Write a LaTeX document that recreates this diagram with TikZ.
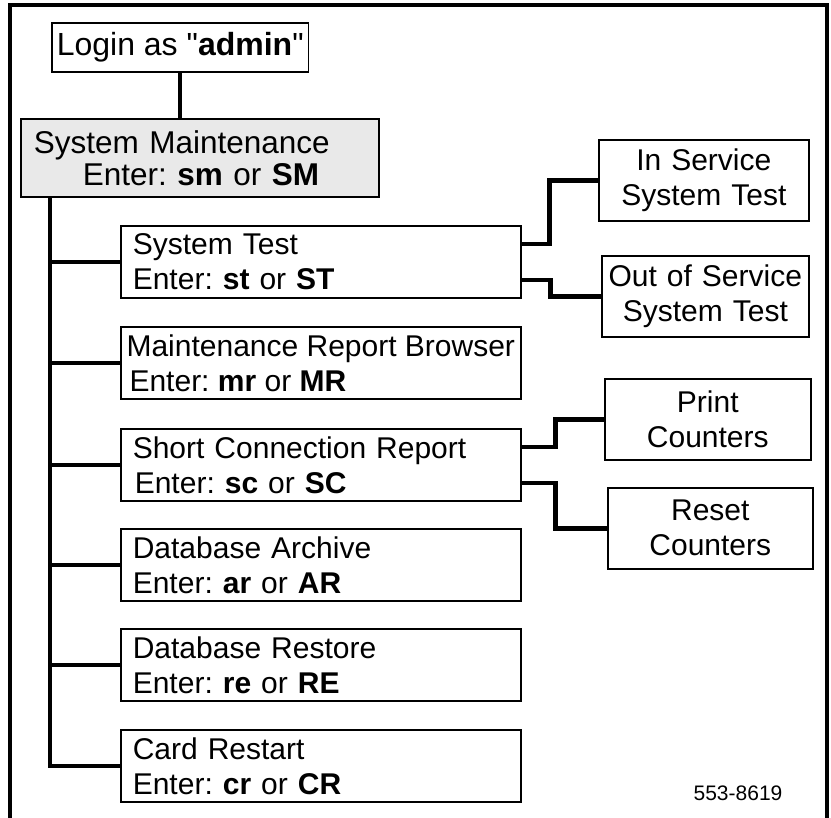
\documentclass[tikz,border=0pt]{standalone}
\usepackage{fontspec}
\setmainfont{Liberation Sans}
\newfontfamily\rawfont{Liberation Sans}
\frenchspacing

\begin{document}
\begin{tikzpicture}[x=1pt,y=-1pt,
  box/.style={draw,line width=1.6pt,anchor=north west,inner sep=0pt,font=\fontsize{30}{35}\selectfont},
  menu/.style={box,minimum width=400pt,minimum height=72pt,inner xsep=12pt,text width=376pt,align=left},
  sub/.style={box,minimum width=#1,minimum height=81pt,text width=#1,align=center},
  link/.style={line width=4.5pt}]
\useasboundingbox (0,0) rectangle (831,818);
\draw [line width=3.5pt] (10,818) -- (10,5) -- (827,5) -- (827,818);

\node [box,inner xsep=5pt,minimum height=49pt,font=\fontsize{32}{38}\selectfont] (login) at (51,22) {Login as {\rawfont"}\textbf{admin}{\rawfont"}};
\node [box,fill=gray!17,minimum width=358pt,minimum height=78pt,inner xsep=13pt,text width=332pt,align=left,font=\fontsize{31.5}{32}\selectfont] (sm) at (20,118)
  {System Maintenance\\\hspace*{49pt}Enter: \textbf{sm} or \textbf{SM}};
\draw [link] (login.south) -- (login.south |- sm.north);

\node [menu] (st) at (120,225) {System Test\\Enter: \textbf{st} or \textbf{ST}};
\node [box,minimum width=400pt,minimum height=72pt,inner xsep=5pt,align=left] (mr) at (120,326) {Maintenance Report Browser\\\hspace*{3pt}Enter: \textbf{mr} or \textbf{MR}};
\node [menu] (sc) at (120,428) {Short Connection Report\\\hspace*{2pt}Enter: \textbf{sc} or \textbf{SC}};
\node [menu] (da) at (120,528) {Database Archive\\Enter: \textbf{ar} or \textbf{AR}};
\node [menu] (dr) at (120,628) {Database Restore\\Enter: \textbf{re} or \textbf{RE}};
\node [menu] (cr) at (120,729) {Card Restart\\Enter: \textbf{cr} or \textbf{CR}};

\coordinate (trunk) at (50,0);
\draw [link] (trunk |- sm.south) -- (trunk |- cr.west) -- (cr.west);
\foreach \m in {st,mr,sc,da,dr}
  \draw [link] (trunk |- \m.west) -- (\m.west);

\node [sub=210pt] (ins) at (598,139) {In Service\\System Test};
\node [sub=207pt] (oos) at (601,255) {Out of Service\\System Test};
\node [sub=206pt] (pc) at (604,378) {Print\\Counters};
\node [sub=205pt] (rc) at (607,487) {Reset\\Counters};

\draw [link] ([yshift=18pt]st.east) -- ++(28,0) |- (ins.west);
\draw [link] ([yshift=-18pt]st.east) -- ++(29,0) |- (oos.west);
\draw [link] ([yshift=18pt]sc.east) -- ++(34,0) |- (pc.west);
\draw [link] ([yshift=-18pt]sc.east) -- ++(34,0) |- (rc.west);

\node [font=\fontsize{21}{21}\selectfont] (fig) at (738,793) {553-8619};
\end{tikzpicture}
\end{document}
